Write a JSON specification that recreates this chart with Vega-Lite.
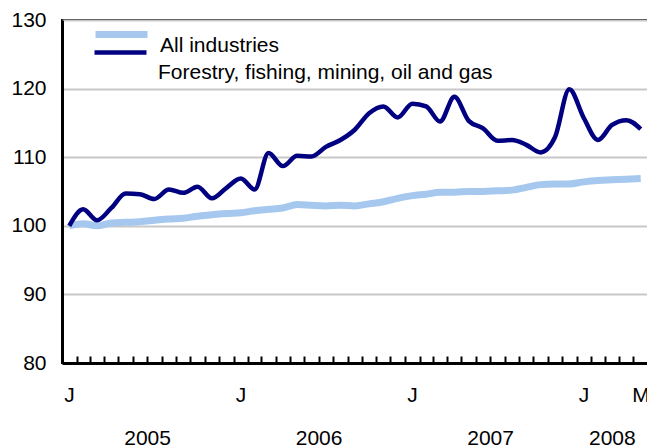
{
  "$schema": "https://vega.github.io/schema/vega-lite/v6.json",
  "width": 586,
  "height": 343,
  "autosize": {"type": "none"},
  "padding": {"left": 62, "top": 20, "right": 0, "bottom": 82},
  "config": {
    "font": "Liberation Sans",
    "view": {"stroke": "black", "strokeWidth": 2},
    "legend": {
      "title": null,
      "orient": "none",
      "symbolType": "stroke",
      "symbolSize": 2700,
      "labelFontSize": 21,
      "labelColor": "black",
      "labelOffset": 9,
      "labelLimit": 600,
      "labelBaseline": "top"
    }
  },
  "data": {
    "values": [
      {"month": "2005-01-01", "All industries": 100.0, "Forestry, fishing, mining, oil and gas": 100.0},
      {"month": "2005-02-01", "All industries": 100.3, "Forestry, fishing, mining, oil and gas": 102.4},
      {"month": "2005-03-01", "All industries": 100.0, "Forestry, fishing, mining, oil and gas": 100.8},
      {"month": "2005-04-01", "All industries": 100.4, "Forestry, fishing, mining, oil and gas": 102.6},
      {"month": "2005-05-01", "All industries": 100.5, "Forestry, fishing, mining, oil and gas": 104.7},
      {"month": "2005-06-01", "All industries": 100.6, "Forestry, fishing, mining, oil and gas": 104.6},
      {"month": "2005-07-01", "All industries": 100.8, "Forestry, fishing, mining, oil and gas": 103.9},
      {"month": "2005-08-01", "All industries": 101.0, "Forestry, fishing, mining, oil and gas": 105.3},
      {"month": "2005-09-01", "All industries": 101.1, "Forestry, fishing, mining, oil and gas": 104.8},
      {"month": "2005-10-01", "All industries": 101.4, "Forestry, fishing, mining, oil and gas": 105.7},
      {"month": "2005-11-01", "All industries": 101.6, "Forestry, fishing, mining, oil and gas": 104.0},
      {"month": "2005-12-01", "All industries": 101.8, "Forestry, fishing, mining, oil and gas": 105.5},
      {"month": "2006-01-01", "All industries": 101.9, "Forestry, fishing, mining, oil and gas": 106.9},
      {"month": "2006-02-01", "All industries": 102.2, "Forestry, fishing, mining, oil and gas": 105.3},
      {"month": "2006-03-01", "All industries": 102.4, "Forestry, fishing, mining, oil and gas": 110.6},
      {"month": "2006-04-01", "All industries": 102.6, "Forestry, fishing, mining, oil and gas": 108.7},
      {"month": "2006-05-01", "All industries": 103.1, "Forestry, fishing, mining, oil and gas": 110.2},
      {"month": "2006-06-01", "All industries": 103.0, "Forestry, fishing, mining, oil and gas": 110.1},
      {"month": "2006-07-01", "All industries": 102.9, "Forestry, fishing, mining, oil and gas": 111.5},
      {"month": "2006-08-01", "All industries": 103.0, "Forestry, fishing, mining, oil and gas": 112.5},
      {"month": "2006-09-01", "All industries": 102.9, "Forestry, fishing, mining, oil and gas": 114.0},
      {"month": "2006-10-01", "All industries": 103.2, "Forestry, fishing, mining, oil and gas": 116.4},
      {"month": "2006-11-01", "All industries": 103.5, "Forestry, fishing, mining, oil and gas": 117.4},
      {"month": "2006-12-01", "All industries": 104.0, "Forestry, fishing, mining, oil and gas": 115.8},
      {"month": "2007-01-01", "All industries": 104.4, "Forestry, fishing, mining, oil and gas": 117.8},
      {"month": "2007-02-01", "All industries": 104.6, "Forestry, fishing, mining, oil and gas": 117.4},
      {"month": "2007-03-01", "All industries": 104.9, "Forestry, fishing, mining, oil and gas": 115.2},
      {"month": "2007-04-01", "All industries": 104.9, "Forestry, fishing, mining, oil and gas": 118.8},
      {"month": "2007-05-01", "All industries": 105.0, "Forestry, fishing, mining, oil and gas": 115.3},
      {"month": "2007-06-01", "All industries": 105.0, "Forestry, fishing, mining, oil and gas": 114.2},
      {"month": "2007-07-01", "All industries": 105.1, "Forestry, fishing, mining, oil and gas": 112.4},
      {"month": "2007-08-01", "All industries": 105.2, "Forestry, fishing, mining, oil and gas": 112.5},
      {"month": "2007-09-01", "All industries": 105.6, "Forestry, fishing, mining, oil and gas": 111.8},
      {"month": "2007-10-01", "All industries": 106.0, "Forestry, fishing, mining, oil and gas": 110.7},
      {"month": "2007-11-01", "All industries": 106.1, "Forestry, fishing, mining, oil and gas": 112.9},
      {"month": "2007-12-01", "All industries": 106.1, "Forestry, fishing, mining, oil and gas": 119.9},
      {"month": "2008-01-01", "All industries": 106.4, "Forestry, fishing, mining, oil and gas": 115.7},
      {"month": "2008-02-01", "All industries": 106.6, "Forestry, fishing, mining, oil and gas": 112.5},
      {"month": "2008-03-01", "All industries": 106.7, "Forestry, fishing, mining, oil and gas": 114.7},
      {"month": "2008-04-01", "All industries": 106.8, "Forestry, fishing, mining, oil and gas": 115.4},
      {"month": "2008-05-01", "All industries": 106.9, "Forestry, fishing, mining, oil and gas": 114.1}
    ]
  },
  "transform": [
    {"fold": ["All industries", "Forestry, fishing, mining, oil and gas"], "as": ["series", "value"]}
  ],
  "encoding": {
    "y": {
      "field": "value",
      "type": "quantitative",
      "scale": {"domain": [80, 130], "nice": false, "zero": false},
      "axis": {
        "values": [80, 90, 100, 110, 120, 130],
        "title": null,
        "grid": true,
        "gridColor": "#c8c8c8",
        "gridWidth": 2,
        "ticks": false,
        "domainColor": "black",
        "domainWidth": 3,
        "labelFontSize": 21,
        "labelColor": "black",
        "labelPadding": 16
      }
    }
  },
  "layer": [
    {
      "transform": [{"filter": "datum.series == 'All industries'"}],
      "mark": {"type": "line", "interpolate": "monotone", "strokeWidth": 7},
      "encoding": {
        "color": {
          "field": "series",
          "type": "nominal",
          "scale": {"domain": ["All industries"], "range": ["#a6c8ef"]},
          "legend": {"legendX": 30, "legendY": -15, "symbolStrokeWidth": 7}
        },
        "x": {
          "field": "month",
          "timeUnit": "utcyearmonth",
          "type": "temporal",
          "bandPosition": 0.5,
          "scale": {
            "domain": [
              {"year": 2005, "month": 1, "date": 1, "utc": true},
              {"year": 2008, "month": 6, "date": 1, "utc": true}
            ],
            "nice": false
          },
          "axis": {
            "title": null,
            "orient": "bottom",
            "tickCount": {"interval": "month", "step": 1},
            "tickSize": -7,
            "tickWidth": 2,
            "tickColor": "black",
            "domainColor": "black",
            "domainWidth": 3,
            "grid": false,
            "labelExpr": "utcmonth(datum.value) == 0 ? 'J' : ((utcyear(datum.value) == 2008 && utcmonth(datum.value) == 4) ? 'M' : '')",
            "labelOffset": 7,
            "labelAlign": "center",
            "labelBaseline": "top",
            "labelFontSize": 21,
            "labelColor": "black",
            "labelPadding": 28,
            "labelOverlap": false,
            "labelFlush": false,
            "labelBound": false
          }
        }
      }
    },
    {
      "transform": [{"filter": "datum.series != 'All industries'"}],
      "mark": {"type": "line", "interpolate": "monotone", "strokeWidth": 4.5},
      "encoding": {
        "stroke": {
          "field": "series",
          "type": "nominal",
          "scale": {"domain": ["Forestry, fishing, mining, oil and gas"], "range": ["#000080"]},
          "legend": {
            "legendX": 30,
            "legendY": 4,
            "symbolStrokeWidth": 4.5,
            "encode": {"labels": {"update": {"dy": {"value": 9}}}}
          }
        },
        "x": {
          "field": "month",
          "timeUnit": "utcyearmonth",
          "type": "temporal",
          "bandPosition": 0.5,
          "scale": {
            "domain": [
              {"year": 2005, "month": 1, "date": 1, "utc": true},
              {"year": 2008, "month": 6, "date": 1, "utc": true}
            ],
            "nice": false
          },
          "axis": {
            "title": null,
            "orient": "bottom",
            "values": [
              {"year": 2005, "month": 7, "date": 1, "utc": true},
              {"year": 2006, "month": 7, "date": 1, "utc": true},
              {"year": 2007, "month": 7, "date": 1, "utc": true},
              {"year": 2008, "month": 3, "date": 16, "utc": true}
            ],
            "labelExpr": "utcFormat(datum.value, '%Y')",
            "ticks": false,
            "domain": false,
            "grid": false,
            "labelAlign": "center",
            "labelBaseline": "top",
            "labelFontSize": 21,
            "labelColor": "black",
            "labelPadding": 64,
            "labelOverlap": false,
            "labelFlush": false,
            "labelBound": false
          }
        }
      }
    }
  ],
  "resolve": {"axis": {"x": "independent"}}
}
